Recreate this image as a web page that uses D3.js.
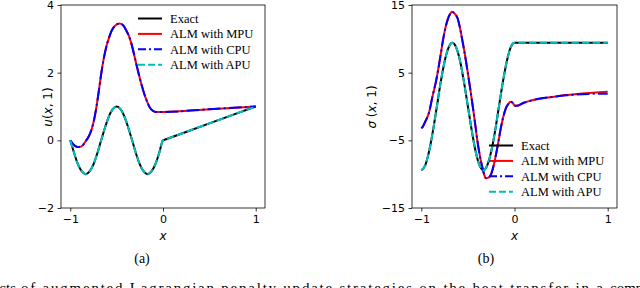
<!DOCTYPE html>
<html>
<head>
<meta charset="utf-8">
<script src="https://cdn.jsdelivr.net/npm/d3@7"></script>
<style>
  body { margin: 0; background: #fff; }
  svg { display: block; }
</style>
</head>
<body>
<svg id="chart" width="640" height="288"></svg>
<script>
// ---- data ----
var seriesNames = ["Exact", "ALM with MPU", "ALM with CPU", "ALM with APU"];

// exact solution / APU (they coincide)
var xExact = [-1, -0.958, -0.917, -0.875, -0.833, -0.792, -0.75, -0.708, -0.667, -0.625, -0.583, -0.542,
  -0.5, -0.458, -0.417, -0.375, -0.333, -0.292, -0.25, -0.208, -0.167, -0.125, -0.083, -0.042, 0, 0.01, 0.5, 1];
var uExact = [0, -0.38, -0.71, -0.92, -1, -0.92, -0.71, -0.38, 0, 0.38, 0.71, 0.92,
  1, 0.92, 0.71, 0.38, 0, -0.38, -0.71, -0.92, -1, -0.92, -0.71, -0.38, 0, 0.01, 0.5, 1];
var uAPU = [0, -0.38, -0.71, -0.92, -1, -0.92, -0.71, -0.38, 0, 0.38, 0.71, 0.92,
  1, 0.92, 0.71, 0.38, 0, -0.38, -0.71, -0.92, -1, -0.92, -0.71, -0.38, 0, 0.01, 0.5, 1];
var sExact = [-9.42, -8.7, -6.66, -3.6, 0, 3.6, 6.66, 8.7, 9.42, 8.7, 6.66, 3.6,
  0, -3.6, -6.66, -8.7, -9.42, -8.7, -6.66, -3.6, 0, 3.6, 6.66, 8.7, 9.42, 9.42, 9.42, 9.42];
var sAPU = [-9.42, -8.7, -6.66, -3.6, 0, 3.6, 6.66, 8.7, 9.42, 8.7, 6.66, 3.6,
  0, -3.6, -6.66, -8.7, -9.42, -8.7, -6.66, -3.6, 0, 3.6, 6.66, 8.7, 9.42, 9.42, 9.42, 9.42];

// panel (a), MPU / CPU
var xUpperA = [-1, -0.96, -0.92, -0.88, -0.84, -0.8, -0.77, -0.74, -0.72, -0.69, -0.665, -0.64, -0.61,
  -0.58, -0.557, -0.52, -0.47, -0.43, -0.4, -0.37, -0.343, -0.29, -0.236, -0.18, -0.13, -0.08, 0, 0.5, 1];
var uMPU = [0, -0.14, -0.2, -0.18, -0.05, 0.12, 0.32, 0.65, 0.95, 1.5, 1.99, 2.4, 2.78,
  3.05, 3.22, 3.38, 3.45, 3.4, 3.27, 3.1, 2.88, 2.28, 1.69, 1.2, 0.92, 0.84, 0.84, 0.92, 1];
var uCPU = [0, -0.14, -0.2, -0.18, -0.05, 0.12, 0.32, 0.65, 0.95, 1.5, 1.99, 2.4, 2.78,
  3.05, 3.22, 3.38, 3.45, 3.4, 3.27, 3.1, 2.88, 2.28, 1.69, 1.2, 0.92, 0.84, 0.84, 0.92, 1];

// panel (b), MPU / CPU
var xUpperB = [-1, -0.985, -0.96, -0.915, -0.88, -0.843, -0.8, -0.77, -0.745, -0.718, -0.69, -0.672,
  -0.64, -0.61, -0.585, -0.557, -0.53, -0.503, -0.475, -0.45, -0.42, -0.397, -0.37, -0.343, -0.32,
  -0.307, -0.28, -0.254, -0.225, -0.2, -0.17, -0.147, -0.12, -0.093, -0.065, -0.045, -0.02, 0, 0.02,
  0.1, 0.2, 0.4, 0.56, 0.8, 1];
var sMPU = [-3.2, -3, -2.3, -0.77, 1.5, 3.67, 7, 9.58, 11.4, 12.8, 13.7, 14,
  13.7, 13, 11.6, 9.58, 7.5, 5.15, 2.6, 0.22, -2.8, -5.2, -7.4, -9.1, -10.3,
  -10.6, -10.5, -10.1, -8.8, -7.2, -5, -3.2, -1.5, -0.27, 0.4, 0.7, 0.55, 0.15, 0.1,
  0.55, 0.96, 1.4, 1.7, 2, 2.2];
var sCPU = [-3.2, -3, -2.3, -0.77, 1.5, 3.67, 7, 9.58, 11.4, 12.8, 13.7, 14,
  13.7, 13, 11.6, 9.58, 7.5, 5.15, 2.6, 0.22, -2.8, -5.2, -7.4, -9.1, -10.3,
  -10.6, -10.5, -10.1, -8.8, -7.2, -5, -3.2, -1.5, -0.27, 0.4, 0.7, 0.55, 0.15, 0.1,
  0.55, 0.96, 1.4, 1.65, 1.85, 1.9];

var xTicks = [-1, 0, 1];
var yTicksA = [-2, 0, 2, 4];
var yTicksB = [-15, -5, 5, 15];

// ---- styles ----
var styles = [
  {color: "#000000", dash: null},
  {color: "#ff0000", dash: null},
  {color: "#0000ff", dash: "12.8,3.2,2,3.2"},
  {color: "#00bfbf", dash: "7.4,3.2"}
];

var svg = d3.select("#chart");

function zip(xs, ys) {
  return xs.map(function(d, i) { return [d, ys[i]]; });
}

function drawPanel(opt) {
  var x = d3.scaleLinear().domain([-1.1, 1.1]).range([opt.left, opt.right]);
  var y = d3.scaleLinear().domain(opt.yDomain).range([208, 5]);

  var g = svg.append("g");

  var line = d3.line()
      .x(function(d) { return x(d[0]); })
      .y(function(d) { return y(d[1]); })
      .curve(d3.curveMonotoneX);

  opt.series.forEach(function(s, i) {
    g.append("path")
        .datum(s)
        .attr("fill", "none")
        .attr("stroke", styles[i].color)
        .attr("stroke-width", 2)
        .attr("stroke-dasharray", styles[i].dash)
        .attr("d", line);
  });

  // axes
  var ax = g.append("g")
      .attr("transform", "translate(0,208)")
      .call(d3.axisBottom(x).tickValues(xTicks).tickFormat(d3.format("d")).tickSize(3.5).tickPadding(3.5));
  var ay = g.append("g")
      .attr("transform", "translate(" + opt.left + ",0)")
      .call(d3.axisLeft(y).tickValues(opt.yTicks).tickFormat(d3.format("d")).tickSize(3.5).tickPadding(3.5));
  [ax, ay].forEach(function(a) {
    a.select(".domain").remove();
    a.selectAll("line").attr("stroke", "#000").attr("stroke-width", 0.8);
    a.selectAll("text")
        .attr("fill", "#000")
        .style("font-family", "DejaVu Sans")
        .style("font-size", "11px");
  });

  g.append("rect")
      .attr("x", opt.left)
      .attr("y", 5)
      .attr("width", opt.right - opt.left)
      .attr("height", 203)
      .attr("fill", "none")
      .attr("stroke", "#000")
      .attr("stroke-width", 0.8);

  // axis labels
  g.append("text")
      .attr("x", x(0))
      .attr("y", 240)
      .attr("text-anchor", "middle")
      .style("font-family", "DejaVu Sans")
      .style("font-size", "12px")
      .style("font-style", "italic")
      .text("x");

  var yl = g.append("text")
      .attr("transform", "translate(" + opt.yLabelX + ",107) rotate(-90)")
      .attr("text-anchor", "middle")
      .style("font-family", "DejaVu Sans")
      .style("font-size", "12px");
  opt.yLabel.forEach(function(p) {
    yl.append("tspan").style("font-style", p[1] ? "italic" : "normal").text(p[0]);
  });

  // legend
  var lg = g.append("g");
  seriesNames.forEach(function(name, i) {
    var yy = opt.legendY + i * 15.4;
    lg.append("line")
        .attr("x1", opt.legendX)
        .attr("x2", opt.legendX + 24)
        .attr("y1", yy)
        .attr("y2", yy)
        .attr("stroke", styles[i].color)
        .attr("stroke-width", 2)
        .attr("stroke-dasharray", styles[i].dash ? (i == 2 ? "8,3,2,3" : "7,3") : null);
    lg.append("text")
        .attr("x", opt.legendX + 32)
        .attr("y", yy)
        .attr("dy", "0.35em")
        .style("font-family", "Liberation Serif")
        .style("font-size", "12.5px")
        .text(name);
  });

  svg.append("text")
      .attr("x", opt.tagX)
      .attr("y", 263)
      .attr("text-anchor", "middle")
      .style("font-family", "Liberation Serif")
      .style("font-size", "14px")
      .text(opt.tag);
}

drawPanel({
  left: 61, right: 265,
  yDomain: [-2, 4], yTicks: yTicksA,
  series: [zip(xExact, uExact), zip(xUpperA, uMPU), zip(xUpperA, uCPU), zip(xExact, uAPU)],
  yLabel: [["u", true], ["(", false], ["x", true], [", 1)", false]],
  yLabelX: 52,
  legendX: 138, legendY: 18.5,
  tag: "(a)", tagX: 142
});

drawPanel({
  left: 412, right: 617,
  yDomain: [-15, 15], yTicks: yTicksB,
  series: [zip(xExact, sExact), zip(xUpperB, sMPU), zip(xUpperB, sCPU), zip(xExact, sAPU)],
  yLabel: [["σ", true], [" (", false], ["x", true], [", 1)", false]],
  yLabelX: 376,
  legendX: 489, legendY: 145.5,
  tag: "(b)", tagX: 486
});

// caption, cut off by the bottom edge as in the source figure
var caption = "of augmented Lagrangian penalty update strategies on the heat transfer in a";
var cap = svg.append("g")
    .style("font-family", "Liberation Serif")
    .style("font-size", "15px");
cap.append("text").attr("x", 16).attr("y", 293).attr("text-anchor", "end").text("Effects");
cap.append("text").attr("x", 21).attr("y", 293)
    .attr("textLength", 582).attr("lengthAdjust", "spacing")
    .text(caption);
cap.append("text").attr("x", 610).attr("y", 293).text("composite");
</script>
</body>
</html>
